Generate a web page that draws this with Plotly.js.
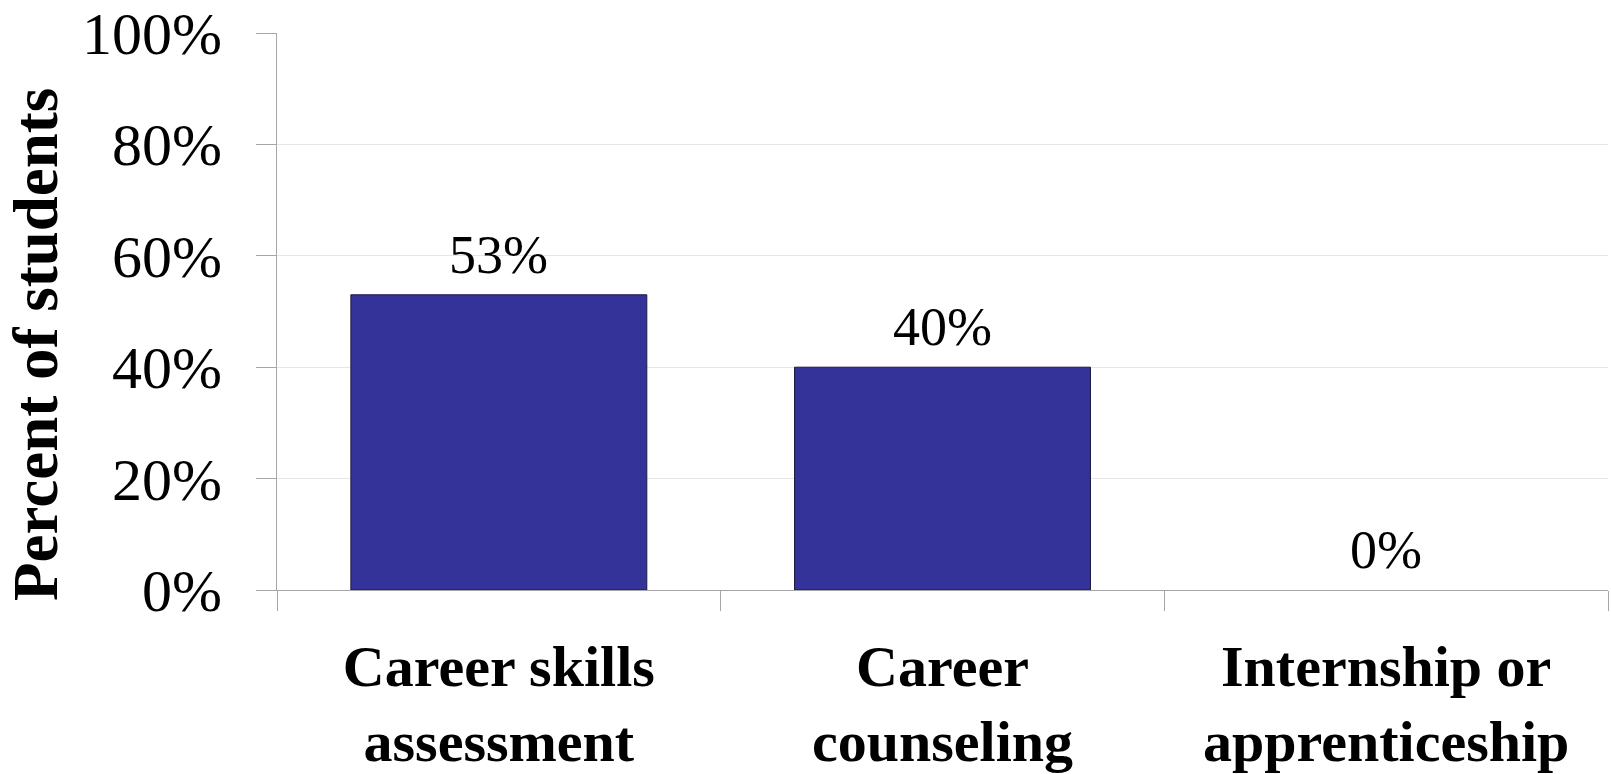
<!DOCTYPE html>
<html>
<head>
<meta charset="utf-8">
<script src="https://cdn.plot.ly/plotly-3.0.1.min.js"></script>
<style>
  html, body { margin: 0; padding: 0; background: #ffffff; }
  #chart { width: 1611px; height: 774px; }
</style>
</head>
<body>
<div id="chart"></div>
<script>
const categories = ["Career skills<br>assessment", "Career<br>counseling", "Internship or<br>apprenticeship"];
const percentValues = [53, 40, 0];
const valueLabels = ["53%", "40%", "0%"];
const yTickValues = [0, 20, 40, 60, 80, 100];
const yTickLabels = ["0%", "20%", "40%", "60%", "80%", "100%"];
const yAxisTitle = "Percent of students";

const serif = "'Liberation Serif', 'Times New Roman', serif";

const trace = {
  type: "bar",
  x: categories,
  y: percentValues,
  textposition: "none",
  cliponaxis: false,
  width: 0.667,
  marker: {
    color: "#333399",
    line: { color: "#1a1a40", width: percentValues.map(v => v > 0 ? 1 : 0) }
  },
  hoverinfo: "skip"
};

const valueAnnotations = categories.map((c, i) => ({
  x: c,
  y: percentValues[i],
  xref: "x", yref: "y",
  text: valueLabels[i],
  showarrow: false,
  xanchor: "center",
  yanchor: "bottom",
  yshift: 8,
  font: { family: serif, size: 54, color: "#000000" }
}));

const layout = {
  width: 1611,
  height: 774,
  margin: { l: 277, r: 3, t: 33, b: 184 },
  paper_bgcolor: "#ffffff",
  plot_bgcolor: "#ffffff",
  showlegend: false,
  bargap: 0.333,
  font: { family: serif, color: "#000000" },
  xaxis: {
    type: "category",
    tickson: "boundaries",
    ticks: "outside",
    ticklen: 20,
    tickwidth: 1,
    tickcolor: "#a6a6a6",
    showline: true,
    linecolor: "#a6a6a6",
    linewidth: 1,
    showgrid: false,
    tickfont: { family: serif, size: 58, color: "#000000", weight: "bold" },
    ticklabelstandoff: 25
  },
  yaxis: {
    range: [0, 100],
    tickvals: yTickValues,
    ticktext: yTickLabels,
    ticks: "outside",
    ticklen: 20,
    tickwidth: 1,
    tickcolor: "#a6a6a6",
    showline: true,
    linecolor: "#a6a6a6",
    linewidth: 1,
    showgrid: true,
    gridcolor: "#e6e6e6",
    gridwidth: 1,
    zeroline: false,
    tickfont: { family: serif, size: 60, color: "#000000" },
    ticklabelstandoff: 22
  },
  annotations: valueAnnotations.concat([{
    text: "<b>" + yAxisTitle + "</b>",
    xref: "paper", yref: "paper",
    x: -0.181, y: 0.44,
    xanchor: "center", yanchor: "middle",
    textangle: -90,
    showarrow: false,
    font: { family: serif, size: 63, color: "#000000" }
  }])
};

Plotly.newPlot("chart", [trace], layout, { displayModeBar: false, staticPlot: true });
</script>
</body>
</html>
